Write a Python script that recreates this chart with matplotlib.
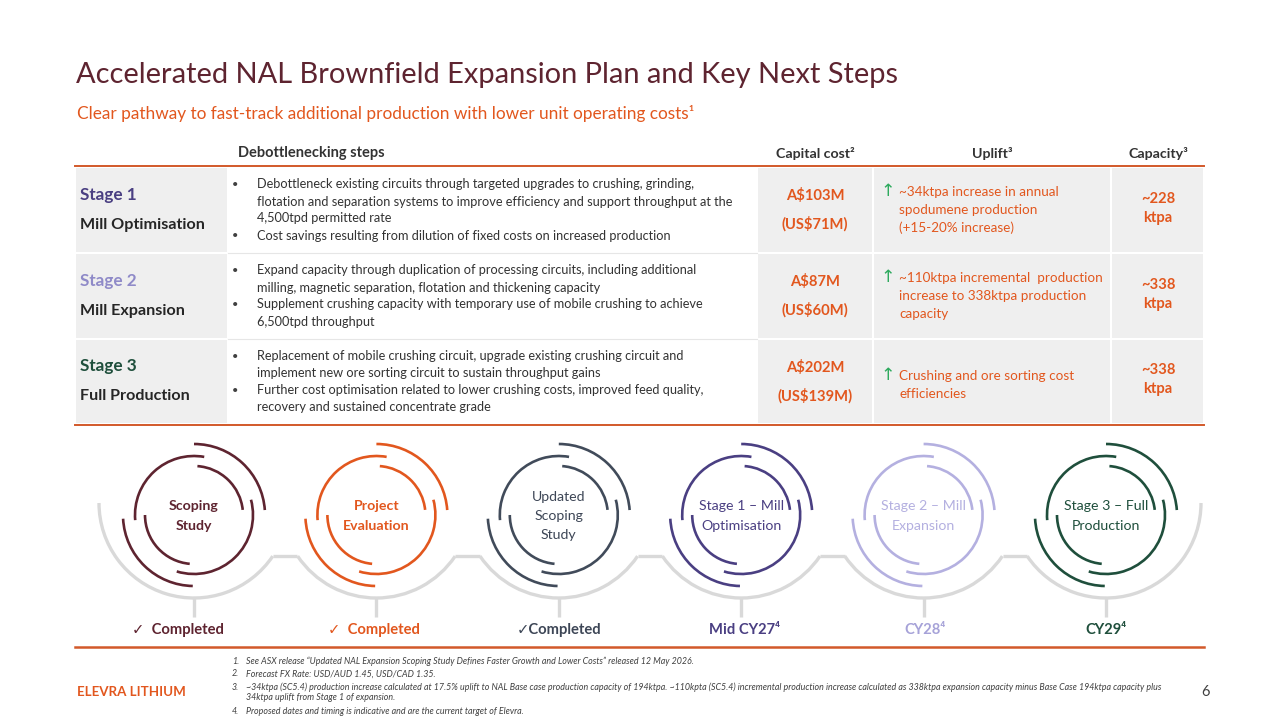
import matplotlib
matplotlib.use("Agg")
import matplotlib.pyplot as plt
from matplotlib.patches import Arc, Rectangle

# ---------------- data ----------------
title = "Accelerated NAL Brownfield Expansion Plan and Key Next Steps"
subtitle = "Clear pathway to fast-track additional production with lower unit operating costs¹"
header_labels = ["Debottlenecking steps", "Capital cost²", "Uplift³", "Capacity³"]
stage_numbers = ["Stage 1", "Stage 2", "Stage 3"]
stage_names = ["Mill Optimisation", "Mill Expansion", "Full Production"]
step_bullets = [
    [["Debottleneck existing circuits through targeted upgrades to crushing, grinding,",
      "flotation and separation systems to improve efficiency and support throughput at the",
      "4,500tpd permitted rate"],
     ["Cost savings resulting from dilution of fixed costs on increased production"]],
    [["Expand capacity through duplication of processing circuits, including additional",
      "milling, magnetic separation, flotation and thickening capacity"],
     ["Supplement crushing capacity with temporary use of mobile crushing to achieve",
      "6,500tpd throughput"]],
    [["Replacement of mobile crushing circuit, upgrade existing crushing circuit and",
      "implement new ore sorting circuit to sustain throughput gains"],
     ["Further cost optimisation related to lower crushing costs, improved feed quality,",
      "recovery and sustained concentrate grade"]],
]
capex_aud = ["A$103M", "A$87M", "A$202M"]
capex_usd = ["(US$71M)", "(US$60M)", "(US$139M)"]
uplift_lines = [
    ["~34ktpa increase in annual", "spodumene production", "(+15-20% increase)"],
    ["~110ktpa incremental  production", "increase to 338ktpa production", "capacity"],
    ["Crushing and ore sorting cost", "efficiencies"],
]
capacity_values = ["~228", "~338", "~338"]
capacity_unit = "ktpa"

milestones = ["Scoping\nStudy", "Project\nEvaluation", "Updated\nScoping\nStudy",
              "Stage 1 – Mill\nOptimisation", "Stage 2 – Mill\nExpansion",
              "Stage 3 – Full\nProduction"]
milestone_bold = [True, True, False, False, False, False]
milestone_status = ["✓  Completed", "✓  Completed", "✓Completed",
                    "Mid CY27⁴", "CY28⁴", "CY29⁴"]
milestone_colors = ["#5E2430", "#E2571E", "#414B5A", "#4A3F82", "#B4B0E0", "#1F4F3C"]
status_colors = ["#5E2430", "#E2571E", "#3D4656", "#4A3F82", "#A6A2D8", "#1F4F3C"]
status_offsets = [-16, -2, 0, 3, 1, 0]

footnote_nums = ["1.", "2.", "3.", "", "4."]
footnotes = [
    "See ASX release \u201cUpdated NAL Expansion Scoping Study Defines Faster Growth and Lower Costs\u201d released 12 May 2026.",
    "Forecast FX Rate: USD/AUD 1.45, USD/CAD 1.35.",
    "~34ktpa (SC5.4) production increase calculated at 17.5% uplift to NAL Base case production capacity of 194ktpa. ~110kpta (SC5.4) incremental production increase calculated as 338ktpa expansion capacity minus Base Case 194ktpa capacity plus",
    "34ktpa uplift from Stage 1 of expansion.",
    "Proposed dates and timing is indicative and are the current target of Elevra.",
]
brand = "ELEVRA LITHIUM"
page_number = "6"

# ---------------- style ----------------
FONT = ["Lato", "DejaVu Sans"]
MAROON = "#5E2430"
ORANGE = "#E2571E"
LINE_OR = "#D2592A"
DARK = "#333333"
GREY_CELL = "#EFEFEF"
stage_colors = ["#4A3F82", "#8F8AC8", "#1F4F3C"]

fig = plt.figure(figsize=(12.8, 7.2), dpi=100)
ax = fig.add_axes([0, 0, 1, 1])
ax.set_xlim(0, 1280)
ax.set_ylim(720, 0)
ax.axis("off")


def T(x, y, s, size, color=DARK, weight="normal", ha="left", va="center", style="normal", **kw):
    ax.text(x, y, s, fontsize=size, color=color, fontweight=weight, ha=ha, va=va,
            family=FONT, fontstyle=style, parse_math=False, **kw)


# title
T(76, 75, title, 20.9, color=MAROON)
T(77, 113, subtitle, 12.4, color=ORANGE)

# table geometry
col_edges = [75, 228, 757, 873, 1111, 1204]
row_edges = [167, 253, 339, 424]
for r in range(3):
    y0, y1 = row_edges[r], row_edges[r + 1]
    for c in range(5):
        x0, x1 = col_edges[c], col_edges[c + 1]
        fc = "white" if c == 1 else GREY_CELL
        ax.add_patch(Rectangle((x0 + 1, y0 + 1), x1 - x0 - 2, y1 - y0 - 2, facecolor=fc,
                               edgecolor="none", zorder=0))
    if r > 0:
        ax.plot([col_edges[1], col_edges[2]], [y0, y0], color="#E6E6E6", lw=0.8, zorder=1)

ax.plot([75, 1204], [166, 166], color=LINE_OR, lw=1.4)
ax.plot([75, 1204], [425, 425], color=LINE_OR, lw=1.4)

# header
hy = 153
T(238, hy, header_labels[0], 10.5, weight="bold")
T(815, hy, header_labels[1], 10.2, weight="bold", ha="center")
T(992, hy, header_labels[2], 10.2, weight="bold", ha="center")
T(1158, hy, header_labels[3], 10.2, weight="bold", ha="center")

# rows
line_h = 17
for r in range(3):
    y0, y1 = row_edges[r], row_edges[r + 1]
    mid = (y0 + y1) / 2
    T(80, mid - 15, stage_numbers[r], 12.3, color=stage_colors[r], weight="bold")
    T(80, mid + 15, stage_names[r], 11.6, weight="bold", color="#262626")

    lines = []
    for bl in step_bullets[r]:
        for i, ln in enumerate(bl):
            lines.append((i == 0, ln))
    n = len(lines)
    start = mid - (n - 1) * line_h / 2
    for i, (is_b, ln) in enumerate(lines):
        yy = start + i * line_h
        if is_b:
            T(232, yy, "•", 8, color="#404040")
        T(257, yy, ln, 9.2, color="#333333")

    T(815, mid - 14, capex_aud[r], 10.6, color=ORANGE, weight="bold", ha="center")
    T(815, mid + 14, capex_usd[r], 10.6, color=ORANGE, weight="bold", ha="center")

    ul = uplift_lines[r]
    m = len(ul)
    ustart = mid - (m - 1) * 18 / 2 + (4 if m == 2 else 0)
    ax.text(888, ustart - 1, "↑", fontsize=12.5, color="#2EAA5E", ha="center", va="center",
            family=["DejaVu Sans"])
    for i, ln in enumerate(ul):
        T(899, ustart + i * 18, ln, 9.7, color=ORANGE)

    T(1158, mid - 11, capacity_values[r], 10.6, color=ORANGE, weight="bold", ha="center")
    T(1158, mid + 8, capacity_unit, 10.6, color=ORANGE, weight="bold", ha="center")

# timeline
n_m = len(milestones)
cx0, dx = 194, 182.4
centers = [cx0 + i * dx for i in range(n_m)]
ring_y = 515
gray_y = 503
R_gray = 95
conn_y = 556
GRAY = "#D9D9D9"


def arc(cx, cy, r, a1, a2, color, lw):
    # visual angles (counter-clockwise, y up) -> inverted-axis data angles
    ax.add_patch(Arc((cx, cy), 2 * r, 2 * r, theta1=-a2, theta2=-a1, color=color, lw=lw,
                     capstyle="butt"))


ring_specs = [
    (49, [(6, 86), (180, 265)]),
    (59, [(80, 185), (253, 375)]),
    (71, [(4, 90), (183, 269)]),
]

for i, cx in enumerate(centers):
    a_start = 180 if i == 0 else 214
    a_end = 360 if i == n_m - 1 else 326
    arc(cx, gray_y, R_gray, a_start, a_end, GRAY, 2.4)
    if i < n_m - 1:
        ax.plot([cx + 79, centers[i + 1] - 79], [conn_y, conn_y], color=GRAY, lw=2.4,
                solid_capstyle="butt")
    ax.plot([cx, cx], [gray_y + R_gray, 617], color=GRAY, lw=2.4, solid_capstyle="butt")

    for r, segs in ring_specs:
        for a1, a2 in segs:
            arc(cx, ring_y, r, a1, a2, milestone_colors[i], 1.9)

    lines = milestones[i].split("\n")
    k = len(lines)
    for j, ln in enumerate(lines):
        yy = ring_y + 1 - (k - 1) * 19 / 2 + j * 19
        T(cx, yy, ln, 10.2, color=milestone_colors[i] if i != 2 else "#3D4656",
          weight="bold" if milestone_bold[i] else "normal", ha="center")

    T(cx + status_offsets[i], 630, milestone_status[i], 10.6, color=status_colors[i],
      weight="bold", ha="center")

ax.plot([75, 1204], [647, 647], color=LINE_OR, lw=1.8)

# footnotes
fy = [661, 674, 687, 698, 711]
for num, txt, yy in zip(footnote_nums, footnotes, fy):
    if num:
        T(232, yy, num, 6.3, color="#404040", style="italic")
    T(246, yy, txt, 6.4, color="#404040", style="italic")

T(77, 692, brand, 9.6, color=ORANGE, weight="bold")
T(1206, 692, page_number, 10.5, color="#404040", ha="center")

fig.savefig("out.png", dpi=100, facecolor="white")
